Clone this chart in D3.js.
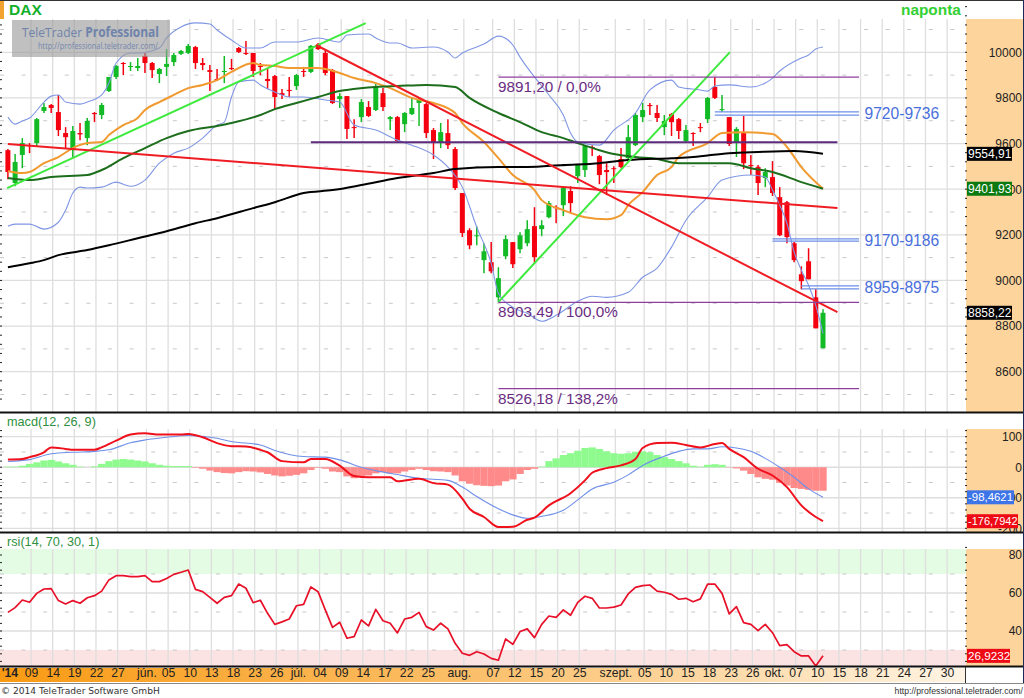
<!DOCTYPE html>
<html>
<head>
<meta charset="utf-8">
<script src="https://cdnjs.cloudflare.com/ajax/libs/d3/7.8.5/d3.min.js"></script>
<style>
html, body { margin: 0; padding: 0; background: #fff; }
svg { display: block; font-family: "Liberation Sans", Arial, sans-serif; }
</style>
</head>
<body>
<script>
// daily candles, one entry per bar
const open = [9571,9427,9550,9593,9602,9743,9769,9738,9646,9571,
  9646,9624,9734,9725,9830,9892,9953,9936,9931,9984,
  9953,9905,9936,9957,9993,9997,10023,9953,9922,9883,
  9914,9931,10019,9997,9997,9940,9883,9896,9821,9835,
  9852,9918,9914,10032,9997,9922,9795,9808,9672,9716,
  9760,9747,9821,9707,9716,9685,9729,9778,9773,9659,
  9607,9646,9576,9383,9220,9194,9089,9080,8926,9106,
  9168,9137,9163,9238,9225,9277,9321,9330,9392,9457,
  9484,9585,9545,9484,9492,9532,9536,9593,9716,9769,
  9734,9672,9729,9707,9611,9646,9672,9707,9848,9747,
  9716,9607,9646,9506,9497,9449,9453,9365,9343,9163,
  9027,9084,8926,8703];
const close = [9475,9519,9602,9589,9707,9760,9756,9659,9628,9655,
  9640,9699,9729,9769,9892,9940,9949,9940,9940,9953,
  9922,9927,9949,9988,10006,10028,9953,9944,9914,9881,
  9918,9927,10001,9993,9918,9936,9874,9804,9813,9830,
  9900,9914,10028,10014,9909,9778,9808,9664,9668,9782,
  9721,9852,9760,9716,9611,9734,9756,9795,9646,9607,
  9650,9593,9405,9208,9154,9198,9128,9040,9010,9181,
  9071,9198,9225,9102,9242,9339,9319,9405,9339,9506,
  9589,9580,9462,9475,9488,9497,9628,9725,9747,9764,
  9712,9699,9694,9655,9659,9642,9668,9800,9800,9751,
  9598,9664,9514,9501,9427,9475,9383,9198,9190,9089,
  8997,9005,8790,8858.22];
const high = [9576,9554,9624,9602,9712,9778,9773,9813,9672,9677,
  9690,9712,9738,9778,9892,9944,9957,9957,9975,9997,
  9957,9931,10014,9997,10010,10036,10028,9975,9944,9927,
  9984,9971,10023,10050,9997,9953,9931,9900,9839,9892,
  9905,9936,10032,10041,10010,9927,9821,9808,9707,9795,
  9786,9865,9843,9721,9721,9738,9804,9800,9778,9668,
  9690,9707,9585,9383,9229,9238,9163,9168,9058,9198,
  9168,9211,9264,9321,9264,9348,9330,9409,9413,9510,
  9593,9593,9550,9514,9501,9580,9681,9734,9778,9778,
  9769,9725,9734,9712,9681,9650,9690,9804,9892,9813,
  9716,9672,9721,9550,9506,9492,9523,9409,9348,9168,
  9062,9141,8961,8874];
const low = [9444,9413,9492,9558,9589,9734,9734,9633,9576,9541,
  9615,9593,9694,9707,9826,9883,9900,9918,9918,9909,
  9887,9865,9896,9940,9988,9993,9927,9922,9830,9874,
  9865,9922,9997,9988,9892,9900,9839,9751,9795,9804,
  9835,9892,9909,10010,9900,9773,9756,9620,9624,9694,
  9716,9743,9743,9659,9607,9650,9725,9677,9624,9532,
  9580,9576,9396,9190,9137,9154,9032,9032,8904,9093,
  9054,9119,9150,9075,9194,9273,9251,9282,9295,9427,
  9453,9545,9422,9374,9427,9492,9532,9589,9694,9725,
  9694,9637,9633,9620,9607,9589,9650,9690,9795,9738,
  9589,9541,9488,9462,9374,9409,9370,9194,9163,9080,
  8961,9005,8790,8703];

// indicator lines as [bar, value]
const bandUpper = [[0,9716],[1,9685],[2,9699],[3,9712],[5,9782],[6,9808],[7,9813],[8,9782],[10,9773],[11,9782],
  [13,9813],[14,9865],[15,9953],[17,9997],[18,9997],[21,10019],[22,10063],[24,10111],[26,10129],[28,10124],
  [29,10098],[31,10054],[33,10019],[35,10019],[37,10045],[40,10045],[43,10063],[46,10045],[47,10076],[50,10080],
  [51,10063],[53,10041],[54,10041],[56,10019],[59,10023],[61,10001],[62,9975],[63,9997],[65,10023],[66,10036],
  [68,10071],[70,10032],[71,9979],[73,9892],[75,9813],[77,9725],[78,9646],[79,9607],[82,9593],[84,9659],
  [87,9734],[89,9835],[92,9878],[93,9848],[96,9835],[97,9830],[98,9852],[100,9857],[103,9848],[105,9865],
  [106,9887],[107,9918],[110,9975],[111,9988],[112,10014],[113,10023]];
const bandLower = [[0,9238],[1,9247],[3,9247],[5,9225],[7,9255],[8,9308],[9,9383],[10,9409],[11,9405],[13,9409],
  [15,9431],[17,9413],[19,9440],[21,9514],[23,9558],[25,9580],[27,9624],[29,9681],[30,9694],[31,9804],
  [32,9870],[34,9878],[35,9857],[37,9826],[39,9804],[41,9804],[44,9791],[46,9782],[48,9681],[51,9659],
  [54,9615],[56,9593],[59,9550],[61,9497],[63,9409],[65,9233],[67,9075],[68,8944],[70,8882],[72,8856],
  [74,8821],[76,8847],[79,8909],[81,8931],[83,8926],[86,8948],[88,9014],[90,9054],[92,9146],[94,9264],
  [97,9365],[99,9440],[103,9462],[105,9453],[106,9396],[107,9330],[108,9251],[109,9124],[110,9045],[111,8979],
  [112,8891],[113,8768]];
const avgOrange = [[0,9479],[2,9471],[3,9475],[5,9514],[7,9541],[9,9580],[11,9602],[13,9607],[14,9637],[16,9681],
  [18,9712],[19,9747],[21,9782],[23,9813],[25,9843],[27,9857],[29,9878],[31,9914],[34,9953],[35,9944],
  [37,9940],[39,9931],[43,9931],[46,9909],[48,9887],[51,9865],[53,9843],[56,9800],[59,9778],[62,9734],
  [63,9690],[66,9607],[68,9536],[70,9462],[73,9396],[74,9352],[77,9308],[80,9277],[83,9268],[85,9286],
  [86,9330],[88,9387],[90,9462],[92,9497],[93,9541],[97,9602],[99,9646],[102,9650],[106,9642],[108,9585],
  [110,9497],[113,9401.93]];
const avgGreen = [[0,9449],[3,9440],[6,9453],[11,9462],[13,9484],[16,9536],[19,9580],[22,9624],[25,9655],[29,9677],
  [31,9690],[35,9725],[37,9751],[40,9778],[43,9804],[46,9830],[47,9835],[51,9848],[54,9852],[58,9857],
  [62,9848],[64,9800],[68,9734],[71,9694],[74,9650],[77,9624],[79,9602],[82,9571],[84,9554],[87,9541],
  [90,9532],[93,9514],[97,9514],[100,9514],[103,9492],[106,9475],[110,9431],[113,9401.93]];
const avgBlack = [[0,9058],[3,9075],[5,9089],[7,9111],[11,9133],[14,9154],[18,9185],[22,9216],[26,9251],[29,9273],
  [34,9317],[37,9343],[41,9383],[45,9396],[49,9418],[54,9449],[59,9471],[62,9488],[68,9497],[72,9497],
  [77,9506],[82,9514],[86,9528],[92,9536],[95,9541],[100,9558],[104,9563],[109,9567],[113,9554.91]];

// hand drawn lines on the chart, [bar, price]
const trendGreenA = [[-0.1,9405],[49.6,10128]];
const trendGreenB = [[68,8905],[100.1,10001]];
const trendRedA = [[0,9598],[115,9317]];
const trendRedB = [[42.7,10032],[115,8861]];
const supportLine = [[42,9606],[115,9606]];

const fiboPrices = [9891.2, 8903.49, 8526.18];
const fiboLabels = ["9891,20 / 0,0%", "8903,49 / 100,0%", "8526,18 / 138,2%"];
const zoneLabels = ["9720-9736", "9170-9186", "8959-8975"];
const zoneTop = [9739, 9182, 8976];
const zoneBottom = [9725, 9172, 8963];
const zoneStart = [98, 106, 110];

const macdLine = [[0,25],[2,27],[3,33],[5,49],[6,65],[8,60],[9,57],[12,57],[13,65],[15,87],
  [17,107],[19,111],[21,107],[24,107],[25,109],[27,98],[29,79],[31,69],[33,68],[35,57],
  [36,49],[38,20],[41,16],[42,27],[44,27],[46,5],[48,-29],[50,-33],[53,-33],[54,-46],
  [57,-38],[59,-52],[61,-57],[63,-103],[64,-136],[66,-163],[68,-196],[70,-195],[72,-172],[73,-165],
  [75,-125],[78,-85],[80,-43],[81,-18],[83,-3],[85,6],[87,27],[88,63],[90,79],[92,80],
  [94,73],[96,65],[98,76],[99,79],[100,60],[102,33],[104,-5],[106,-27],[108,-65],[110,-125],
  [112,-163],[113,-176.79]];
const macdSignal = [[0,19],[3,25],[6,44],[9,49],[12,52],[14,57],[17,80],[19,89],[22,98],[25,104],
  [29,95],[31,84],[35,73],[37,55],[41,35],[44,33],[46,24],[49,0],[51,-11],[54,-24],
  [57,-36],[61,-43],[63,-65],[65,-96],[68,-136],[70,-156],[72,-167],[74,-161],[77,-141],[79,-107],
  [81,-71],[84,-49],[86,-25],[88,6],[91,36],[93,52],[95,60],[97,60],[99,67],[101,63],
  [103,52],[105,29],[107,0],[109,-33],[111,-71],[113,-98.46]];
const macdHist = [2,2,5,11,16,22,24,19,13,8,
  2,0,3,11,20,25,27,25,22,19,
  13,8,5,4,4,4,-2,-5,-11,-16,
  -19,-20,-16,-13,-14,-17,-22,-27,-30,-28,
  -25,-20,-9,-2,-5,-14,-16,-30,-36,-29,
  -27,-20,-16,-20,-20,-14,-9,-5,-9,-13,
  -14,-16,-27,-46,-54,-59,-61,-62,-60,-46,
  -40,-22,-9,-5,2,20,29,40,46,54,
  63,65,60,52,46,44,46,51,52,49,
  40,33,27,20,13,5,2,8,10,8,
  -1,-4,-11,-22,-33,-38,-41,-51,-60,-68,
  -71,-74,-77,-77];

const rsi = [49.8,52.3,56.3,55.1,59.8,62.1,62.3,56,54.2,56,
  54.6,57.5,58.6,61,66.9,69.1,69.1,68.6,68.6,69.1,
  66,66,67.6,69.8,70.9,72.1,61.9,60.7,57.7,54.6,
  57.7,58.6,64.7,62.5,54.9,56.2,49.3,43.5,44.8,46.3,
  53.3,54,63.2,60.7,51.1,41.9,44.6,36.2,37,45.8,
  42.7,51.4,45.4,44.1,39,46.3,47.2,49.8,42.3,40.5,
  44.1,41.1,33.5,28.3,27.2,29.1,27.9,25.6,24.6,35.8,
  33,39.7,41.1,36.5,43.5,47.9,47.2,51.1,48.3,55.1,
  58.3,57.2,52.1,52.1,52.6,53.7,59.5,63,63.9,64.2,
  61,60.4,59.3,56.7,57.2,55.4,56.9,64.7,64.7,59.8,
  49,52.8,44.4,43.5,40.2,43.5,39.1,32.3,32.8,29.1,
  26.9,26.9,21.6,26.92];

const dateBars = [0,3,6,9,12,15,19,22,25,28,31,34,37,40,43,46,49,52,55,58,63,67,70,73,76,79,84,88,91,94,97,100,103,106,109,112,115,118,121,124,127,130];
const dateLabels = ["'14","09","14","19","22","27","jún.","05","10","13","18","23","26","júl.","04","09","14","17","22","25","aug.","07","12","15","20","25","szept.","05","10","15","18","23","26","okt.","07","10","15","18","21","24","27","30"];

const priceTicks = [10000,9800,9600,9400,9200,9000,8800,8600];
const macdTicks = [100,0,-100,-200];
const rsiTicks = [80,60,40];

const w = 1024;
const h = 698;
const axisX = 966;

const svg = d3.select("body").append("svg").attr("width", w).attr("height", h);

const x = d3.scaleLinear().domain([0, 113]).range([7.9, 823]);
const gridX = i => x(i) + 1.5;
const yPrice = d3.scaleLinear().domain([8600, 10000]).range([371.7, 52.3]);
const yMacd = d3.scaleLinear().domain([-200, 100]).range([528.3, 436.7]);
const yRsi = d3.scaleLinear().domain([40, 80]).range([631, 555]);

const panes = [
  { bottom: 412, axisTop: 19 },
  { bottom: 532, axisTop: 429 },
  { bottom: 666, axisTop: 549 }
];

const defs = svg.append("defs");
const grad = defs.append("linearGradient").attr("id", "dateFill");
grad.append("stop").attr("offset", "0%").attr("stop-color", "#f99a12");
grad.append("stop").attr("offset", "50%").attr("stop-color", "#fbc06c");
grad.append("stop").attr("offset", "100%").attr("stop-color", "#fff4e4");

// axis backgrounds
panes.forEach(p => {
  svg.append("rect").attr("x", axisX).attr("y", p.axisTop)
    .attr("width", w - axisX).attr("height", p.bottom - p.axisTop).attr("fill", "#fdd49b");
});

// rsi zones go under the grid
svg.append("rect").attr("x", 0).attr("y", 549).attr("width", axisX).attr("height", yRsi(70) - 549).attr("fill", "#e3fce3");
svg.append("rect").attr("x", 0).attr("y", yRsi(30)).attr("width", axisX).attr("height", 666 - yRsi(30)).attr("fill", "#fbe3e3");

// grid
const grid = svg.append("g");
panes.forEach(p => {
  grid.selectAll(null).data(dateBars.slice(1)).enter().append("line")
    .attr("x1", gridX).attr("x2", gridX).attr("y1", p.axisTop).attr("y2", p.bottom)
    .attr("stroke", "#dedede").attr("stroke-width", 1.3);
});

function hGrid(values, scale, dashed) {
  grid.selectAll(null).data(values).enter().append("line")
    .attr("x1", 0).attr("x2", axisX)
    .attr("y1", d => scale(d)).attr("y2", d => scale(d))
    .attr("stroke", dashed ? "#c8c8c8" : "#dedede")
    .attr("stroke-width", dashed ? 1 : 1.3)
    .attr("stroke-dasharray", dashed ? "4 17.6" : null);
}
hGrid(priceTicks, yPrice, false);
hGrid([10100,9900,9700,9500,9300,9100,8900,8700,8500], yPrice, true);
hGrid(macdTicks, yMacd, false);
hGrid([50,-50,-150], yMacd, true);
hGrid([60,40], yRsi, false);
hGrid([70,50,30], yRsi, true);

// small ticks on both edges
function edgeTicks(values, scale) {
  [[0, 2], [axisX - 1, axisX + 1]].forEach(t => {
    svg.append("g").selectAll("line").data(values).enter().append("line")
      .attr("x1", t[0]).attr("x2", t[1])
      .attr("y1", d => scale(d)).attr("y2", d => scale(d))
      .attr("stroke", "#222").attr("stroke-width", 1);
  });
}
edgeTicks(d3.range(8480, 10300, 40), yPrice);
edgeTicks(d3.range(-200, 121, 20), yMacd);
edgeTicks(d3.range(24, 85, 4), yRsi);

// macd histogram
svg.append("g").selectAll("rect").data(macdHist).enter().append("rect")
  .attr("x", (d, i) => x(i) - 3.6)
  .attr("width", 7.3)
  .attr("y", d => Math.min(yMacd(d), yMacd(0)))
  .attr("height", d => Math.abs(yMacd(d) - yMacd(0)))
  .attr("fill", d => d >= 0 ? "#8ffb8f" : "#ff8a8a");

// candles
const candleRed = "#f5000f";
const candleGreen = "#12bb25";
const candles = svg.append("g").selectAll("g").data(open).enter().append("g")
  .attr("fill", (d, i) => close[i] >= d ? candleGreen : candleRed)
  .attr("stroke", (d, i) => close[i] >= d ? candleGreen : candleRed);
candles.append("line")
  .attr("x1", (d, i) => x(i)).attr("x2", (d, i) => x(i))
  .attr("y1", (d, i) => yPrice(high[i])).attr("y2", (d, i) => yPrice(low[i]))
  .attr("stroke-width", 1.5);
candles.append("rect")
  .attr("x", (d, i) => x(i) - 2.5).attr("width", 5)
  .attr("y", (d, i) => yPrice(Math.max(d, close[i])))
  .attr("height", (d, i) => Math.max(1, Math.abs(yPrice(d) - yPrice(close[i]))))
  .attr("stroke", "none");

// lines
const trendLine = d3.line().x(d => x(d[0])).y(d => yPrice(d[1]));
const smoothPrice = d3.line().curve(d3.curveMonotoneX).x(d => x(d[0])).y(d => yPrice(d[1]));
const macdPath = d3.line().curve(d3.curveMonotoneX).x(d => x(d[0])).y(d => yMacd(d[1]));
const rsiPath = d3.line().x((d, i) => x(i)).y(d => yRsi(d));

function addPath(d, color, width) {
  svg.append("path").attr("d", d).attr("fill", "none")
    .attr("stroke", color).attr("stroke-width", width).attr("stroke-linejoin", "round");
}
addPath(smoothPrice(bandUpper), "#7f96e4", 1.1);
addPath(smoothPrice(bandLower), "#7f96e4", 1.1);
addPath(smoothPrice(avgOrange), "#f09a30", 2);
addPath(smoothPrice(avgGreen), "#1c6e1c", 2);
addPath(smoothPrice(avgBlack), "#000", 2);
addPath(trendLine(trendGreenA), "#3dea3d", 2);
addPath(trendLine(trendGreenB), "#3dea3d", 2);
addPath(trendLine(trendRedA), "#f01c24", 2);
addPath(trendLine(trendRedB), "#f01c24", 2);
addPath(trendLine(supportLine), "#5c2a7e", 2);

// fibo levels
svg.append("g").selectAll("line").data(fiboPrices).enter().append("line")
  .attr("x1", x(68)).attr("x2", x(118))
  .attr("y1", d => yPrice(d)).attr("y2", d => yPrice(d))
  .attr("stroke", "#8e3f9e").attr("stroke-width", 1.2);
svg.append("g").selectAll("text").data(fiboLabels).enter().append("text")
  .attr("x", x(68) - 0.5)
  .attr("y", (d, i) => yPrice(fiboPrices[i]) + 15)
  .attr("font-size", 15.3).attr("fill", "#6a2c82")
  .text(d => d);

// target zones
zoneLabels.forEach((label, i) => {
  [zoneTop[i], zoneBottom[i]].forEach(v => {
    svg.append("line").attr("x1", x(zoneStart[i])).attr("x2", x(118))
      .attr("y1", yPrice(v)).attr("y2", yPrice(v))
      .attr("stroke", "#6d8fe8").attr("stroke-width", 1.3);
  });
  svg.append("text").attr("x", 864.5).attr("y", yPrice((zoneTop[i] + zoneBottom[i]) / 2) + 5.5)
    .attr("font-size", 15.6).attr("fill", "#4a6fdc").text(label);
});

addPath(macdPath(macdSignal), "#6f8fe8", 1.1);
addPath(macdPath(macdLine), "#f0101c", 2);
addPath(rsiPath(rsi), "#e81028", 1.7);

// watermark
svg.append("rect").attr("x", 12).attr("y", 20).attr("width", 158).attr("height", 37)
  .attr("fill", "#9a9a9a").attr("opacity", 0.62);
const wm = svg.append("text").attr("x", 22).attr("y", 37).attr("font-size", 13.4)
  .attr("textLength", 137).attr("lengthAdjust", "spacingAndGlyphs")
  .attr("font-family", "'Open Sans', sans-serif").attr("fill", "#6f83ab");
wm.append("tspan").text("TeleTrader ");
wm.append("tspan").attr("font-weight", "bold").text("Professional");
svg.append("text").attr("x", 38).attr("y", 49).attr("font-size", 8.8)
  .attr("textLength", 120).attr("lengthAdjust", "spacingAndGlyphs")
  .attr("font-family", "'Open Sans', sans-serif").attr("fill", "#7487ae")
  .text("http://professional.teletrader.com/");

// pane titles
svg.append("rect").attr("x", 0).attr("y", 1).attr("width", 4).attr("height", 18).attr("fill", "#f2a22e");
svg.append("text").attr("x", 9).attr("y", 15).attr("font-size", 15.5).attr("font-weight", "bold").attr("fill", "#12b02a").text("DAX");
svg.append("text").attr("x", 901).attr("y", 15).attr("font-size", 15.4).attr("font-weight", "bold").attr("fill", "#32d032").text("naponta");
svg.append("text").attr("x", 7).attr("y", 426).attr("font-size", 12.7).attr("fill", "#2f8f3f").text("macd(12, 26, 9)");
svg.append("text").attr("x", 7).attr("y", 546).attr("font-size", 12.7).attr("fill", "#2f8f3f").text("rsi(14, 70, 30, 1)");

// value axes
function valueAxis(scale, ticks) {
  const g = svg.append("g").attr("transform", "translate(1022,0)")
    .call(d3.axisRight(scale).tickValues(ticks).tickSize(0).tickPadding(0).tickFormat(d => d));
  g.select(".domain").remove();
  g.selectAll("text").attr("text-anchor", "end").attr("font-size", 12)
    .attr("font-family", "'Liberation Sans', Arial, sans-serif").attr("fill", "#222");
}
valueAxis(yPrice, priceTicks);
valueAxis(yMacd, macdTicks);
valueAxis(yRsi, rsiTicks);

function valueBox(y, label, fill, width, size) {
  svg.append("rect").attr("x", 967).attr("y", y - 7).attr("width", width).attr("height", 14).attr("fill", fill);
  svg.append("text").attr("x", 968).attr("y", y + 4.2).attr("font-size", size).attr("fill", "#fff").text(label);
}
valueBox(yPrice(9554.91), "9554,91", "#000", 45, 12);
valueBox(yPrice(9401.93), "9401,93", "#0b7a10", 45, 12);
valueBox(yPrice(8858.22), "8858,22", "#000", 45, 12);
valueBox(yMacd(-98.46), "-98,4621", "#3d74e8", 47, 11.4);
valueBox(yMacd(-176.79), "-176,7942", "#ee0a14", 51, 11);
valueBox(yRsi(26.92), "26,9232", "#ee0a14", 43, 11.7);

// pane frames
[412.5, 532.5, 666.5].forEach(y => {
  svg.append("line").attr("x1", 0).attr("x2", w).attr("y1", y).attr("y2", y)
    .attr("stroke", "#111").attr("stroke-width", 2);
});
svg.append("line").attr("x1", 0).attr("x2", w).attr("y1", 0.5).attr("y2", 0.5).attr("stroke", "#333");
svg.append("line").attr("x1", w - 0.5).attr("x2", w - 0.5).attr("y1", 0).attr("y2", 684).attr("stroke", "#1c2a55");

// date axis
svg.append("rect").attr("x", 0).attr("y", 668).attr("width", axisX - 1).attr("height", 14).attr("fill", "url(#dateFill)");
svg.append("line").attr("x1", axisX - 0.5).attr("x2", axisX - 0.5).attr("y1", 667).attr("y2", 683).attr("stroke", "#333");
svg.append("line").attr("x1", 0).attr("x2", w).attr("y1", 683.5).attr("y2", 683.5).attr("stroke", "#888");
const dateAxis = svg.append("g").attr("transform", "translate(0,664)")
  .call(d3.axisBottom(x).tickValues(dateBars).tickSize(0).tickPadding(4)
    .tickFormat(i => dateLabels[dateBars.indexOf(i)]));
dateAxis.select(".domain").remove();
dateAxis.selectAll("text").attr("font-size", 12.2).attr("fill", "#222")
  .attr("font-family", "'Liberation Sans', Arial, sans-serif")
  .attr("dx", d => d === 63 ? -3.5 : 1.5)
  .attr("font-weight", d => d === 0 ? "bold" : "normal");

// footer
svg.append("text").attr("x", 1).attr("y", 694).attr("font-size", 9.1)
  .attr("font-family", "'DejaVu Sans', sans-serif").attr("fill", "#333").text("\u00a9 2014 TeleTrader Software GmbH");
svg.append("text").attr("x", 1023).attr("y", 694).attr("text-anchor", "end").attr("font-size", 8.7)
  .attr("fill", "#333").text("http://professional.teletrader.com/");
</script>
</body>
</html>
